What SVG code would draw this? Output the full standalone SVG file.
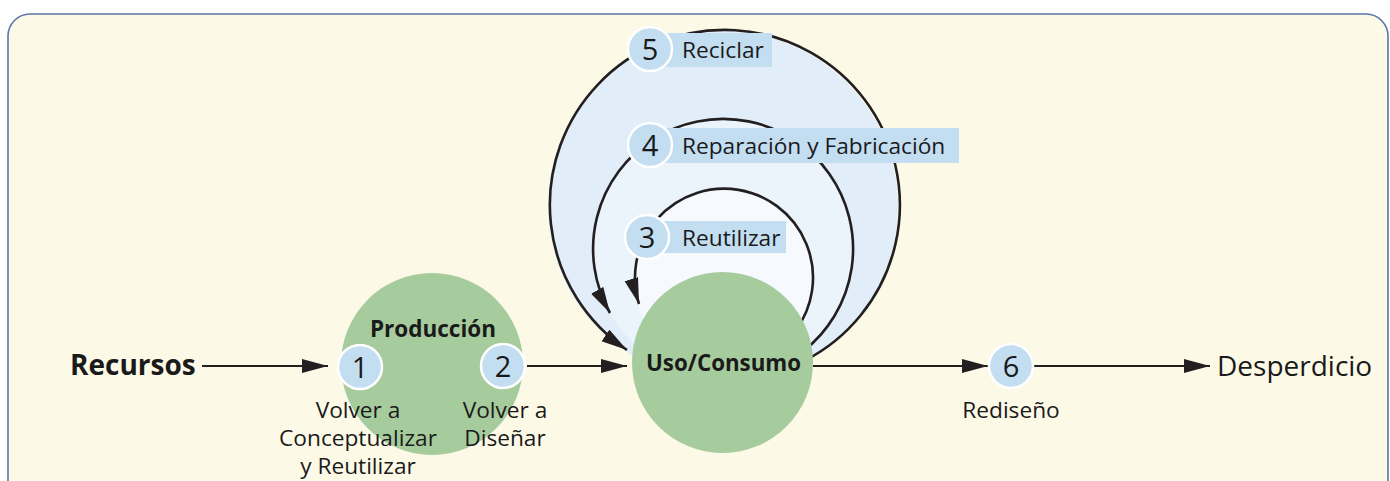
<svg xmlns="http://www.w3.org/2000/svg" width="1390" height="481" viewBox="0 0 1390 481">
<defs>
<style>
text{font-family:"Open Sans","Noto Sans","Liberation Sans",sans-serif;fill:#1a1a1a}
.arc{fill:none;stroke:#231f20;stroke-width:2.6}
.line{fill:none;stroke:#231f20;stroke-width:2.2}
.green{fill:#a6cb9d}
.badge{fill:#c3ddf1;stroke:#ffffff;stroke-width:2.5}
.band{fill:#c3ddf1}
.num{font-size:29px;text-anchor:middle}
.lbl{font-size:22.7px}
.sub{font-size:22.7px;text-anchor:middle}
.bold{font-weight:700}
</style>
<marker id="ah" markerUnits="userSpaceOnUse" markerWidth="28" markerHeight="16" refX="26" refY="7" orient="auto" viewBox="0 0 28 16">
<path d="M0,0 L26,7 L0,14 Z" fill="#231f20"/>
</marker>
</defs>
<rect x="8" y="14" width="1380" height="500" rx="22" ry="22" fill="#fdf9e7" stroke="#5b76a8" stroke-width="1.6"/>
<g id="loops-fill">
<circle cx="723" cy="206" r="175" fill="#e1eef9"/>
<circle cx="723" cy="249" r="130" fill="#ebf3fb"/>
<circle cx="723" cy="279" r="89" fill="#f6fafe"/>
</g>
<g id="connectors">
<path class="arc" d="M805,360.5 A175,175 0 1 0 627,350" marker-end="url(#ah)"/>
<path class="arc" d="M803,351.4 A130,130 0 1 0 610,313" marker-end="url(#ah)"/>
<path class="arc" d="M796,330 A89,89 0 1 0 639,304" marker-end="url(#ah)"/>
<path class="line" d="M202,366 L328,366" marker-end="url(#ah)"/>
<path class="line" d="M527,366 L627,366" marker-end="url(#ah)"/>
<path class="line" d="M813,366 L988,366" marker-end="url(#ah)"/>
<path class="line" d="M1034,366 L1210,366" marker-end="url(#ah)"/>
</g>
<g id="produccion">
<circle class="green" cx="432" cy="364" r="91"/>
<text x="433" y="337" class="bold" font-size="22.5" text-anchor="middle">Producción</text>
</g>
<g id="uso">
<circle class="green" cx="722.5" cy="362.5" r="90.5"/>
<text x="723.5" y="371" class="bold" font-size="22.3" text-anchor="middle">Uso/Consumo</text>
</g>
<g id="recursos">
<text x="70" y="375" class="bold" font-size="28">Recursos</text>
</g>
<g id="desperdicio">
<text x="1217" y="376" font-size="28">Desperdicio</text>
</g>
<g id="step5">
<rect class="band" x="650" y="33" width="122" height="34"/>
<circle class="badge" cx="650" cy="49" r="22"/>
<text class="num" x="650" y="59.5">5</text>
<text class="lbl" x="682" y="58">Reciclar</text>
</g>
<g id="step4">
<rect class="band" x="650" y="128" width="309" height="35"/>
<circle class="badge" cx="650" cy="145" r="22"/>
<text class="num" x="650" y="155.5">4</text>
<text class="lbl" x="682" y="154">Reparación y Fabricación</text>
</g>
<g id="step3">
<rect class="band" x="647" y="221" width="139" height="32"/>
<circle class="badge" cx="647" cy="237" r="22"/>
<text class="num" x="647" y="247.5">3</text>
<text class="lbl" x="682" y="246">Reutilizar</text>
</g>
<g id="step1">
<circle class="badge" cx="360" cy="367" r="22"/>
<text class="num" x="360" y="377.5">1</text>
<text class="sub" x="358" y="418">Volver a</text>
<text class="sub" x="358" y="446">Conceptualizar</text>
<text class="sub" x="358" y="474">y Reutilizar</text>
</g>
<g id="step2">
<circle class="badge" cx="503" cy="366" r="22"/>
<text class="num" x="503" y="376.5">2</text>
<text class="sub" x="505" y="418">Volver a</text>
<text class="sub" x="505" y="446">Diseñar</text>
</g>
<g id="step6">
<circle class="badge" cx="1011" cy="366" r="22"/>
<text class="num" x="1011" y="376.5">6</text>
<text class="sub" x="1011" y="418">Rediseño</text>
</g>
</svg>
